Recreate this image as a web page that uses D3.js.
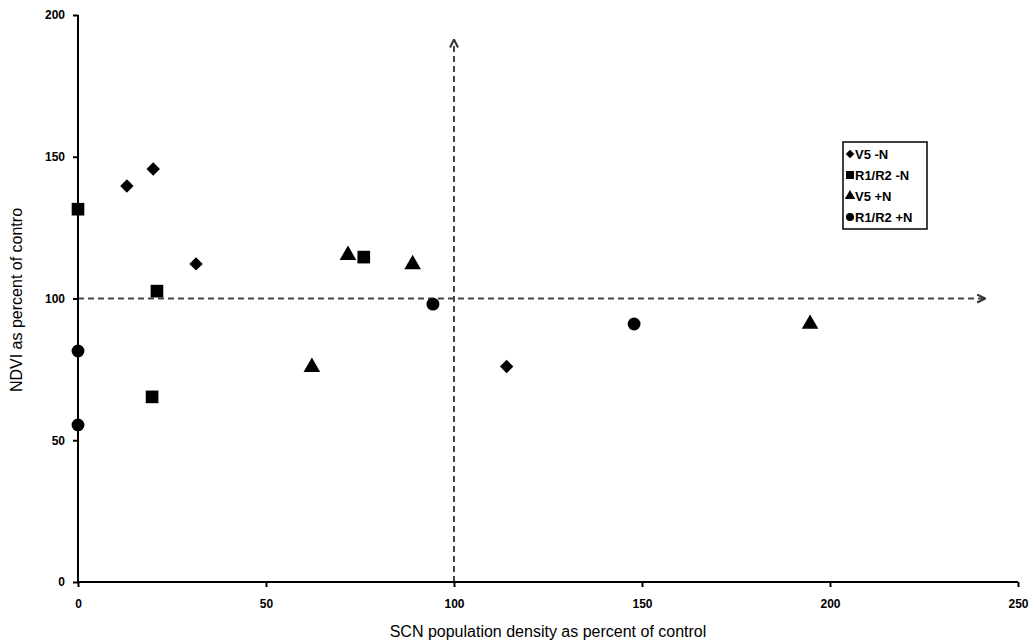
<!DOCTYPE html>
<meta charset="utf-8">
<style>
body { margin: 0; background: #fff; }
text { font-family: "Liberation Sans", Arial, sans-serif; fill: #000; }
.tick text { font-size: 12px; font-weight: bold; }
.ref { fill: none; stroke: #444; stroke-width: 2px; stroke-dasharray: 6,4; }
</style>
<svg width="1036" height="643"></svg>
<script src="https://cdn.jsdelivr.net/npm/d3@7"></script>
<script>

var series = ["V5 -N", "R1/R2 -N", "V5 +N", "R1/R2 +N"];

var v5MinusN = [[13, 139.7], [20, 145.7], [31.4, 112.2], [114, 76]];
var r1r2MinusN = [[0, 131.5], [21, 102.6], [19.7, 65.3], [76, 114.6]];
var v5PlusN = [[71.8, 115.3], [89, 112], [62.2, 75.8], [194.7, 91]];
var r1r2PlusN = [[0, 81.5], [0, 55.4], [94.4, 98], [147.9, 91]];

var xTicks = [0, 50, 100, 150, 200, 250];
var yTicks = [0, 50, 100, 150, 200];

// square diamond (rotated square), d3's own diamond is too narrow
var wideDiamond = {
  draw: function(context, size) {
    var r = Math.sqrt(size / 2);
    context.moveTo(0, -r);
    context.lineTo(r, 0);
    context.lineTo(0, r);
    context.lineTo(-r, 0);
    context.closePath();
  }
};

var shapes = [wideDiamond, d3.symbolSquare, d3.symbolTriangle, d3.symbolCircle];

var svg = d3.select("svg");

var x = d3.scaleLinear().domain([0, 250]).range([78, 1018]),
    y = d3.scaleLinear().domain([0, 200]).range([582, 15]);

svg.append("defs").append("marker")
    .attr("id", "arrow")
    .attr("viewBox", "0 0 10 10")
    .attr("refX", 8).attr("refY", 5)
    .attr("markerWidth", 5).attr("markerHeight", 5)
    .attr("orient", "auto")
  .append("path")
    .attr("d", "M1,1L9,5L1,9")
    .attr("fill", "none")
    .attr("stroke", "#333")
    .attr("stroke-width", 2);

// reference lines at 100%
svg.append("line").attr("class", "ref")
    .attr("x1", x(0)).attr("y1", y(100))
    .attr("x2", x(241)).attr("y2", y(100))
    .attr("marker-end", "url(#arrow)");

svg.append("line").attr("class", "ref")
    .attr("x1", x(100)).attr("y1", y(0))
    .attr("x2", x(100)).attr("y2", y(191))
    .attr("marker-end", "url(#arrow)");

var xAxis = svg.append("g")
    .attr("transform", "translate(0," + y(0) + ")")
    .call(d3.axisBottom(x).tickValues(xTicks).tickSize(5).tickPadding(12));

var yAxis = svg.append("g")
    .attr("transform", "translate(" + x(0) + ",0)")
    .call(d3.axisLeft(y).tickValues(yTicks).tickSize(5).tickPadding(8));

svg.selectAll(".domain, .tick line").attr("stroke", "#000").attr("stroke-width", 2);
xAxis.select(".domain").attr("d", "M" + x(0) + ",0H" + x(250));
yAxis.select(".domain").attr("d", "M0," + y(200) + "V" + y(0));

var data = [v5MinusN, r1r2MinusN, v5PlusN, r1r2PlusN];
var sizes = [90, 160, 120, 130];

data.forEach(function(pts, i) {
  svg.append("g").selectAll("path")
      .data(pts)
    .enter().append("path")
      .attr("transform", function(d) { return "translate(" + x(d[0]) + "," + y(d[1]) + ")"; })
      .attr("d", d3.symbol().type(shapes[i]).size(sizes[i]))
      .attr("fill", "#000");
});

// legend
var legend = svg.append("g").attr("transform", "translate(843,142)");
legend.append("rect")
    .attr("width", 84).attr("height", 87)
    .attr("fill", "#fff").attr("stroke", "#000").attr("stroke-width", 1.5);

var item = legend.selectAll(".item")
    .data(series)
  .enter().append("g")
    .attr("transform", function(d, i) { return "translate(7," + (12 + i * 21) + ")"; });

item.append("path")
    .attr("d", function(d, i) { return d3.symbol().type(shapes[i]).size(sizes[i] * 0.4)(); })
    .attr("fill", "#000");

item.append("text")
    .attr("x", 5).attr("dy", "0.35em")
    .style("font-size", "13px").style("font-weight", "bold")
    .text(function(d) { return d; });

svg.append("text")
    .attr("x", 548).attr("y", 637)
    .attr("text-anchor", "middle")
    .style("font-size", "16px")
    .text("SCN population density as percent of control");

svg.append("text")
    .attr("transform", "translate(22,300) rotate(-90)")
    .attr("text-anchor", "middle")
    .style("font-size", "16px")
    .text("NDVI as percent of contro");

</script>
